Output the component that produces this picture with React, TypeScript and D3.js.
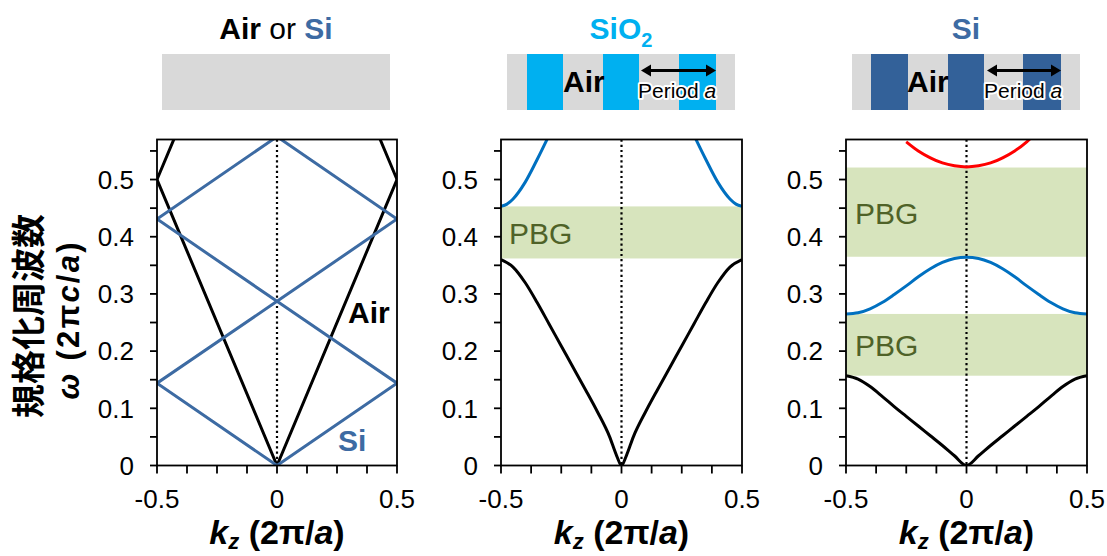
import React from 'react';
import * as d3 from 'd3';

// ---------- shared axis data ----------
const K_DOMAIN: [number, number] = [-0.5, 0.5];
const W_DOMAIN: [number, number] = [0, 0.57];
const X_TICK_VALUES = [-0.5, 0, 0.5];
const X_TICK_LABELS = ['-0.5', '0', '0.5'];
const X_MINOR_TICKS = [-0.5, -0.375, -0.25, -0.125, 0, 0.125, 0.25, 0.375, 0.5];
const Y_TICK_VALUES = [0, 0.1, 0.2, 0.3, 0.4, 0.5];
const Y_TICK_LABELS = ['0', '0.1', '0.2', '0.3', '0.4', '0.5'];
const Y_MINOR_TICKS = [0.05, 0.15, 0.25, 0.35, 0.45, 0.55];

// ---------- panel 1: Air or Si (homogeneous, folded light lines) ----------
const P1_K = [-0.5, 0, 0.5];
const AIR_BAND1 = [0.5, 0, 0.5];
const AIR_BAND2 = [0.5, 1.0, 0.5];
const SI_HOMO_BAND1 = [0.144, 0, 0.144];
const SI_HOMO_BAND2 = [0.144, 0.287, 0.144];
const SI_HOMO_BAND3 = [0.431, 0.287, 0.431];
const SI_HOMO_BAND4 = [0.431, 0.575, 0.431];

// ---------- panel 2: SiO2 / Air multilayer ----------
const P2_K = [-0.5, -0.45, -0.4, -0.35, -0.3, -0.25, -0.2, -0.15, -0.1, -0.05, -0.02, 0, 0.02, 0.05, 0.1, 0.15, 0.2, 0.25, 0.3, 0.35, 0.4, 0.45, 0.5];
const SIO2_BAND1 = [0.36, 0.347, 0.32, 0.285, 0.247, 0.209, 0.171, 0.133, 0.094, 0.051, 0.017, 0, 0.017, 0.051, 0.094, 0.133, 0.171, 0.209, 0.247, 0.285, 0.32, 0.347, 0.36];
const SIO2_BAND2_LEFT_K = [-0.5, -0.475, -0.45, -0.4, -0.35, -0.3];
const SIO2_BAND2_LEFT = [0.453, 0.457, 0.466, 0.495, 0.535, 0.578];
const SIO2_BAND2_RIGHT_K = [0.3, 0.35, 0.4, 0.45, 0.475, 0.5];
const SIO2_BAND2_RIGHT = [0.578, 0.535, 0.495, 0.466, 0.457, 0.453];
const SIO2_GAPS: [number, number][] = [[0.362, 0.453]];

// ---------- panel 3: Si / Air multilayer ----------
const P3_K = [-0.5, -0.45, -0.4, -0.35, -0.3, -0.25, -0.2, -0.15, -0.1, -0.05, 0, 0.05, 0.1, 0.15, 0.2, 0.25, 0.3, 0.35, 0.4, 0.45, 0.5];
const SI_BAND1 = [0.157, 0.151, 0.138, 0.121, 0.103, 0.086, 0.069, 0.052, 0.035, 0.017, 0, 0.017, 0.035, 0.052, 0.069, 0.086, 0.103, 0.121, 0.138, 0.151, 0.157];
const P3_K_BAND2 = [-0.5, -0.45, -0.4, -0.35, -0.3, -0.25, -0.2, -0.15, -0.1, -0.05, 0, 0.05, 0.1, 0.15, 0.2, 0.25, 0.3, 0.35, 0.4, 0.45, 0.5];
const SI_BAND2 = [0.265, 0.267, 0.274, 0.285, 0.299, 0.314, 0.33, 0.344, 0.355, 0.362, 0.364, 0.362, 0.355, 0.344, 0.33, 0.314, 0.299, 0.285, 0.274, 0.267, 0.265];
const P3_K_BAND3 = [-0.25, -0.2, -0.15, -0.1, -0.05, 0, 0.05, 0.1, 0.15, 0.2, 0.25, 0.28];
const SI_BAND3 = [0.566, 0.55, 0.538, 0.529, 0.524, 0.522, 0.524, 0.529, 0.538, 0.55, 0.566, 0.578];
const SI_GAPS: [number, number][] = [[0.157, 0.265], [0.365, 0.521]];

// ---------- colours ----------
const BLACK = '#000000';
const SI_BLUE = '#3d6ba3';
const SI_BAR = '#336199';
const SIO2_BLUE = '#00b0f0';
const BAND_BLUE = '#0070c0';
const RED = '#ff0000';
const GAP_FILL = '#d7e4bd';
const GAP_TEXT = '#4f6228';
const GRAY = '#d9d9d9';

const FONT = '"Liberation Sans", Arial, Helvetica, sans-serif';
const CJK = '"Noto Sans CJK JP", "Noto Sans CJK SC", sans-serif';

type Series = { k: number[]; w: number[]; color: string; smooth?: boolean };
type Label = { k: number; w: number; text: string; color: string; bold?: boolean; size: number };

type PanelSpec = {
  id: string;
  x0: number;
  x1: number;
  series: Series[];
  gaps: [number, number][];
  labels: Label[];
};

const Y_TOP = 139.5;
const Y_BOT = 465.5;

const panels: PanelSpec[] = [
  {
    id: 'p1', x0: 157, x1: 397,
    series: [
      { k: P1_K, w: AIR_BAND1, color: BLACK },
      { k: P1_K, w: AIR_BAND2, color: BLACK },
      { k: P1_K, w: SI_HOMO_BAND1, color: SI_BLUE },
      { k: P1_K, w: SI_HOMO_BAND2, color: SI_BLUE },
      { k: P1_K, w: SI_HOMO_BAND3, color: SI_BLUE },
      { k: P1_K, w: SI_HOMO_BAND4, color: SI_BLUE },
    ],
    gaps: [],
    labels: [
      { k: 0.296, w: 0.25, text: 'Air', color: BLACK, bold: true, size: 30 },
      { k: 0.254, w: 0.026, text: 'Si', color: SI_BLUE, bold: true, size: 30 },
    ],
  },
  {
    id: 'p2', x0: 501, x1: 742,
    series: [
      { k: P2_K, w: SIO2_BAND1, color: BLACK, smooth: true },
      { k: SIO2_BAND2_LEFT_K, w: SIO2_BAND2_LEFT, color: BAND_BLUE, smooth: true },
      { k: SIO2_BAND2_RIGHT_K, w: SIO2_BAND2_RIGHT, color: BAND_BLUE, smooth: true },
    ],
    gaps: SIO2_GAPS,
    labels: [{ k: -0.467, w: 0.387, text: 'PBG', color: GAP_TEXT, size: 30 }],
  },
  {
    id: 'p3', x0: 846, x1: 1087,
    series: [
      { k: P3_K, w: SI_BAND1, color: BLACK, smooth: true },
      { k: P3_K_BAND2, w: SI_BAND2, color: BAND_BLUE, smooth: true },
      { k: P3_K_BAND3, w: SI_BAND3, color: RED, smooth: true },
    ],
    gaps: SI_GAPS,
    labels: [
      { k: -0.463, w: 0.422, text: 'PBG', color: GAP_TEXT, size: 30 },
      { k: -0.463, w: 0.191, text: 'PBG', color: GAP_TEXT, size: 30 },
    ],
  },
];

function Panel({ spec }: { spec: PanelSpec }) {
  const x = d3.scaleLinear().domain(K_DOMAIN).range([spec.x0, spec.x1]);
  const y = d3.scaleLinear().domain(W_DOMAIN).range([Y_BOT, Y_TOP]);
  const clipId = `clip-${spec.id}`;
  const cx = x(0);
  return (
    <g>
      <defs>
        <clipPath id={clipId}>
          <rect x={spec.x0} y={Y_TOP} width={spec.x1 - spec.x0} height={Y_BOT - Y_TOP} />
        </clipPath>
      </defs>
      {spec.gaps.map(([lo, hi], i) => (
        <rect key={i} x={spec.x0} y={y(hi)} width={spec.x1 - spec.x0} height={y(lo) - y(hi)} fill={GAP_FILL} />
      ))}
      {spec.labels.map((l, i) => (
        <text key={i} x={x(l.k)} y={y(l.w)} fill={l.color} fontSize={l.size} fontWeight={l.bold ? 700 : 400} fontFamily={FONT}>
          {l.text}
        </text>
      ))}
      <line x1={cx} x2={cx} y1={Y_TOP} y2={Y_BOT} stroke={BLACK} strokeWidth={2.2} strokeDasharray="2.2,3" />
      <g clipPath={`url(#${clipId})`}>
        {spec.series.map((s, i) => {
          const pts = s.k.map((k, j) => [k, s.w[j]] as [number, number]);
          const gen = d3.line<[number, number]>()
            .x((d) => x(d[0]))
            .y((d) => y(d[1]))
            .curve(s.smooth ? d3.curveMonotoneX : d3.curveLinear);
          return <path key={i} d={gen(pts) || ''} fill="none" stroke={s.color} strokeWidth={3} strokeLinejoin="round" />;
        })}
      </g>
      {/* frame */}
      <rect x={spec.x0} y={Y_TOP} width={spec.x1 - spec.x0} height={Y_BOT - Y_TOP} fill="none" stroke={BLACK} strokeWidth={1.8} />
      {/* y ticks */}
      {[...Y_TICK_VALUES, ...Y_MINOR_TICKS].map((v, i) => (
        <line key={`yt${i}`} x1={spec.x0 - 7} x2={spec.x0} y1={y(v)} y2={y(v)} stroke={BLACK} strokeWidth={1.8} />
      ))}
      {Y_TICK_VALUES.map((v, i) => (
        <text key={`yl${i}`} x={spec.x0 - 23} y={y(v)} dy="0.36em" textAnchor="end" fontSize={26} fontFamily={FONT} fill={BLACK}>
          {Y_TICK_LABELS[i]}
        </text>
      ))}
      {/* x ticks */}
      {X_MINOR_TICKS.map((v, i) => (
        <line key={`xt${i}`} x1={x(v)} x2={x(v)} y1={Y_BOT} y2={Y_BOT + 8} stroke={BLACK} strokeWidth={1.8} />
      ))}
      {X_TICK_VALUES.map((v, i) => (
        <text key={`xl${i}`} x={x(v)} y={Y_BOT + 42} textAnchor="middle" fontSize={26} fontFamily={FONT} fill={BLACK}>
          {X_TICK_LABELS[i]}
        </text>
      ))}
      {/* x title */}
      <text x={cx} y={544} textAnchor="middle" fontSize={34} fontWeight={700} fontFamily={FONT} fill={BLACK}>
        <tspan fontStyle="italic">k</tspan>
        <tspan fontStyle="italic" fontSize={22} dy={5}>z</tspan>
        <tspan dy={-5}> (2π/</tspan>
        <tspan fontStyle="italic">a</tspan>
        <tspan>)</tspan>
      </text>
    </g>
  );
}

function DoubleArrow({ x1, x2, y }: { x1: number; x2: number; y: number }) {
  const h = 10;
  const w = 6;
  return (
    <g>
      <line x1={x1 + h - 1} x2={x2 - h + 1} y1={y} y2={y} stroke={BLACK} strokeWidth={3} />
      <path d={`M${x1},${y} L${x1 + h},${y - w} L${x1 + h},${y + w} Z`} fill={BLACK} />
      <path d={`M${x2},${y} L${x2 - h},${y - w} L${x2 - h},${y + w} Z`} fill={BLACK} />
    </g>
  );
}

function Structure({ x0, x1, bars, barColor, airX, arrow }: { x0: number; x1: number; bars?: [number, number][]; barColor?: string; airX?: number; arrow?: [number, number] }) {
  return (
    <g>
      <rect x={x0} y={54} width={x1 - x0} height={56} fill={GRAY} />
      {bars && bars.map(([a, b], i) => <rect key={i} x={a} y={54} width={b - a} height={56} fill={barColor} />)}
      {airX !== undefined && (
        <text x={airX} y={92} fontSize={30} fontWeight={700} fontFamily={FONT} fill={BLACK}>Air</text>
      )}
      {arrow && <DoubleArrow x1={arrow[0]} x2={arrow[1]} y={70.5} />}
      {arrow && (
        <text x={arrow[0] - 3} y={98} fontSize={21} fontFamily={FONT} fill={BLACK} stroke="#ffffff" strokeWidth={4} strokeLinejoin="round" paintOrder="stroke">
          Period <tspan fontStyle="italic">a</tspan>
        </text>
      )}
    </g>
  );
}

export default function App() {
  return (
    <svg width={1107} height={556} style={{ position: 'absolute', left: 0, top: 0, background: '#ffffff' }} xmlns="http://www.w3.org/2000/svg">
      {/* titles */}
      <text x={276} y={39} textAnchor="middle" fontSize={30} fontFamily={FONT}>
        <tspan fontWeight={700} fill={BLACK}>Air</tspan>
        <tspan fill={BLACK}> or </tspan>
        <tspan fontWeight={700} fill={SI_BLUE}>Si</tspan>
      </text>
      <text x={621} y={39} textAnchor="middle" fontSize={30} fontWeight={700} fontFamily={FONT} fill={SIO2_BLUE}>
        SiO<tspan fontSize={20} dy={8}>2</tspan>
      </text>
      <text x={966} y={39} textAnchor="middle" fontSize={30} fontWeight={700} fontFamily={FONT} fill={SI_BLUE}>Si</text>

      <Structure x0={162} x1={390} />
      <Structure x0={507} x1={735} bars={[[527, 563], [603, 639], [679, 716]]} barColor={SIO2_BLUE} airX={563} arrow={[641, 716]} />
      <Structure x0={852} x1={1080} bars={[[871, 908], [948, 984], [1023, 1061]]} barColor={SI_BAR} airX={907} arrow={[987, 1061]} />

      {panels.map((p) => <Panel key={p.id} spec={p} />)}

      {/* y axis title */}
      <text transform="translate(41,316) rotate(-90)" textAnchor="middle" fontSize={34} fontWeight={700} fontFamily={CJK} fill={BLACK}>
        規格化周波数
      </text>
      <text transform="translate(79,321) rotate(-90)" textAnchor="middle" fontSize={31} fontWeight={700} fontFamily={FONT} fill={BLACK} textLength={157} lengthAdjust="spacing">
        <tspan fontStyle="italic">ω</tspan> (2π<tspan fontStyle="italic">c</tspan>/<tspan fontStyle="italic">a</tspan>)
      </text>
    </svg>
  );
}
